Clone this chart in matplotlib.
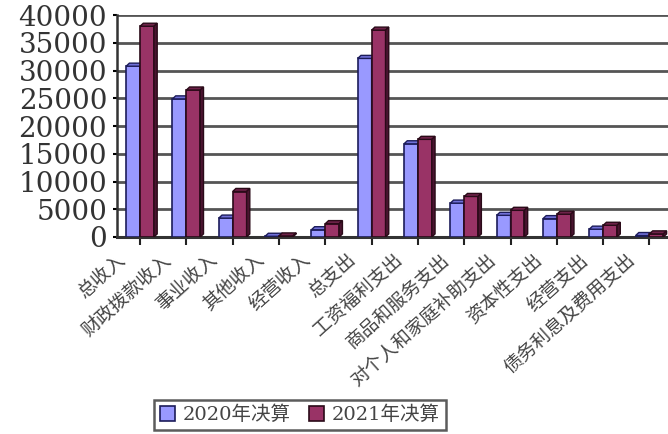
import numpy as np
import matplotlib.pyplot as plt
from matplotlib.patches import Polygon
from matplotlib.transforms import ScaledTranslation

categories = ['总收入', '财政拨款收入', '事业收入', '其他收入', '经营收入', '总支出',
              '工资福利支出', '商品和服务支出', '对个人和家庭补助支出', '资本性支出',
              '经营支出', '债务利息及费用支出']
values_2020 = [30800, 24900, 3400, 120, 1300, 32200, 16800, 6100, 3900, 3300, 1400, 250]
values_2021 = [38000, 26500, 8200, 180, 2400, 37300, 17600, 7300, 4800, 4100, 2100, 550]
series_names = ['2020年决算', '2021年决算']
y_ticks = list(range(0, 40001, 5000))

face_colors = ['#9999ff', '#993366']
top_colors = ['#7070d8', '#6e2249']
side_colors = ['#3c3c8c', '#4a1430']
edge_colors = ['#1c1c5a', '#2a0a18']

cjk = ['Noto Sans CJK SC', 'DejaVu Sans']
serif_cjk = ['DejaVu Serif', 'Noto Sans CJK SC']


def draw_3d(ax, bars, top, side, edge, dx, dy):
    for b in bars:
        x0 = b.get_x()
        w = b.get_width()
        h = b.get_height()
        ax.add_patch(Polygon([[x0, h], [x0 + dx, h + dy], [x0 + w + dx, h + dy], [x0 + w, h]],
                             closed=True, fc=top, ec=edge, lw=1, zorder=3))
        ax.add_patch(Polygon([[x0 + w, 0], [x0 + w + dx, dy], [x0 + w + dx, h + dy], [x0 + w, h]],
                             closed=True, fc=side, ec=edge, lw=1, zorder=3))


fig = plt.figure(figsize=(6.68, 4.34), dpi=100)
ax = fig.add_axes([0.175, 0.454, 0.825, 0.511])

x = np.arange(len(categories))
width = 0.3
dx, dy = 0.07, 550
for i, vals in enumerate([values_2020, values_2021]):
    offs = -width / 2 if i == 0 else width / 2
    bars = ax.bar(x + offs, vals, width, color=face_colors[i], edgecolor=edge_colors[i],
                  linewidth=1.2, zorder=3, label=series_names[i])
    draw_3d(ax, bars, top_colors[i], side_colors[i], edge_colors[i], dx, dy)

ax.set_xlim(-0.5, 11.4)
ax.set_ylim(0, 40000)
ax.set_yticks(y_ticks)
ax.set_yticklabels([str(t) for t in y_ticks], family='DejaVu Serif', fontsize=20, color='#333333')
ax.tick_params(axis='y', length=3, width=1.5, pad=4)
ax.yaxis.grid(True, color='#555555', linewidth=2)
ax.set_axisbelow(True)

ax.set_xticks(x)
ax.set_xticklabels(categories, family=cjk, fontsize=13.5, color='#444444',
                   rotation=42, ha='right', va='center', rotation_mode='anchor')
ax.tick_params(axis='x', length=6, width=1.5, color='#222222', pad=2)
offset = ScaledTranslation(-18 / 100, -9 / 100, fig.dpi_scale_trans)
for lab in ax.get_xticklabels():
    lab.set_transform(lab.get_transform() + offset)

for s in ['top', 'right']:
    ax.spines[s].set_visible(False)
ax.spines['left'].set_linewidth(1.8)
ax.spines['left'].set_color('#333333')
ax.spines['bottom'].set_linewidth(2.2)
ax.spines['bottom'].set_color('#333333')

leg = fig.legend(loc='center', bbox_to_anchor=(0.449, 0.044), ncol=2, frameon=True,
                 prop={'family': serif_cjk, 'size': 14}, handlelength=0.8, handleheight=0.8,
                 handletextpad=0.4, columnspacing=0.9, borderpad=0.3, fancybox=False)
leg.get_frame().set_edgecolor('#333333')
leg.get_frame().set_linewidth(1.8)
for t in leg.get_texts():
    t.set_color('#444444')

fig.savefig('out.png', dpi=100)
